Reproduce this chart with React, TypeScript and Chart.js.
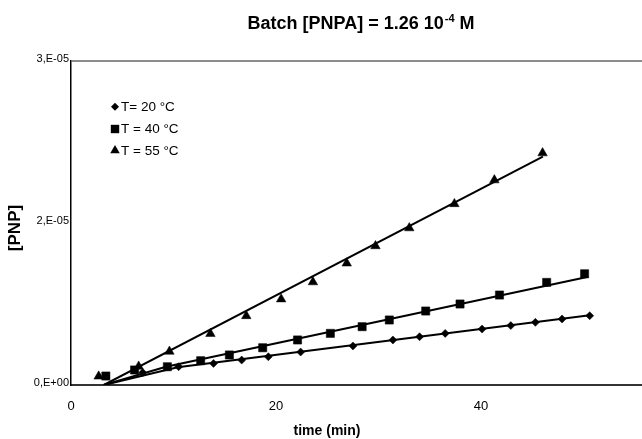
import { useEffect, useRef } from 'react';
import { Chart, registerables } from 'chart.js';

Chart.register(...registerables);

const FONT = "'Liberation Sans', Arial, sans-serif";

// T = 20 °C (diamonds)
const t20X = [7.0, 10.5, 13.9, 16.65, 19.25, 22.4, 27.5, 31.4, 34.0, 36.5, 40.1, 42.9, 45.3, 47.9, 50.6];
const t20Y = [1.15e-6, 1.69e-6, 2.0e-6, 2.31e-6, 2.62e-6, 3.05e-6, 3.61e-6, 4.17e-6, 4.47e-6, 4.78e-6, 5.18e-6, 5.5e-6, 5.8e-6, 6.11e-6, 6.42e-6];
// T = 40 °C (squares)
const t40X = [3.4, 6.2, 9.4, 12.65, 15.45, 18.7, 22.1, 25.3, 28.4, 31.05, 34.6, 37.95, 41.8, 46.4, 50.1];
const t40Y = [0.83e-6, 1.39e-6, 1.69e-6, 2.25e-6, 2.78e-6, 3.45e-6, 4.17e-6, 4.78e-6, 5.4e-6, 6.02e-6, 6.85e-6, 7.5e-6, 8.33e-6, 9.5e-6, 1.03e-5];
// T = 55 °C (triangles)
const t55X = [2.7, 6.6, 9.6, 13.6, 17.1, 20.5, 23.6, 26.9, 29.7, 33.0, 37.4, 41.3, 46.0];
const t55Y = [0.8e-6, 1.72e-6, 3.1e-6, 4.75e-6, 6.4e-6, 7.95e-6, 9.53e-6, 1.127e-5, 1.287e-5, 1.453e-5, 1.677e-5, 1.897e-5, 2.147e-5];

// fitted lines
const fit20X = [3.2, 10.4, 50.8];
const fit20Y = [0, 1.64e-6, 6.48e-6];
const fit40X = [3.2, 9.27, 50.47];
const fit40Y = [0, 1.69e-6, 1.003e-5];
const fit55X = [3.2, 46.03];
const fit55Y = [0, 2.114e-5];

const xTickValues = [0, 20, 40];
const yTickValues = [0, 1.5e-5, 3e-5];
const yTickLabels = ['0,E+00', '2,E-05', '3,E-05'];

const legendLabels = ['T= 20 °C', 'T = 40 °C', 'T = 55 °C'];
const titleMain = 'Batch [PNPA] = 1.26 10';
const titleSup = '-4';
const titleEnd = ' M';
const xTitle = 'time (min)';
const yTitle = '[PNP]';

const zip = (xs: number[], ys: number[]) => xs.map((x, i) => ({ x, y: ys[i] }));

function drawMarker(ctx: CanvasRenderingContext2D, style: string, x: number, y: number) {
  ctx.beginPath();
  if (style === 'diamond') {
    const r = 4;
    ctx.moveTo(x - r, y);
    ctx.lineTo(x, y - r);
    ctx.lineTo(x + r, y);
    ctx.lineTo(x, y + r);
  } else if (style === 'square') {
    const h = 4.2;
    ctx.rect(x - h, y - h, 2 * h, 2 * h);
  } else {
    const r = 5.5;
    ctx.moveTo(x, y - r);
    ctx.lineTo(x + r * 0.866, y + r * 0.5);
    ctx.lineTo(x - r * 0.866, y + r * 0.5);
  }
  ctx.closePath();
  ctx.fill();
}

const decor = {
  id: 'decor',
  afterDraw(chart: any) {
    const { ctx, chartArea } = chart;
    ctx.save();
    // top frame line
    ctx.strokeStyle = '#666';
    ctx.lineWidth = 1.5;
    ctx.beginPath();
    ctx.moveTo(chartArea.left, chartArea.top);
    ctx.lineTo(chart.width, chartArea.top);
    ctx.stroke();

    // title with superscript
    ctx.fillStyle = '#000';
    ctx.textBaseline = 'alphabetic';
    ctx.textAlign = 'left';
    const mainFont = `bold 18px ${FONT}`;
    const supFont = `bold 11px ${FONT}`;
    ctx.font = mainFont;
    const w1 = ctx.measureText(titleMain).width;
    const w3 = ctx.measureText(titleEnd).width;
    ctx.font = supFont;
    const w2 = ctx.measureText(titleSup).width;
    const total = w1 + w2 + 1 + w3;
    let tx = 361 - total / 2;
    const base = 29;
    ctx.font = mainFont;
    ctx.fillText(titleMain, tx, base);
    tx += w1;
    ctx.font = supFont;
    ctx.fillText(titleSup, tx + 1, base - 7);
    tx += w2 + 1;
    ctx.font = mainFont;
    ctx.fillText(titleEnd, tx, base);

    // axis titles
    ctx.font = `bold 14px ${FONT}`;
    ctx.textAlign = 'center';
    ctx.textBaseline = 'middle';
    ctx.fillText(xTitle, 327, 431);
    ctx.save();
    ctx.translate(15, 228);
    ctx.rotate(-Math.PI / 2);
    ctx.font = `bold 17px ${FONT}`;
    ctx.fillText(yTitle, 0, 0);
    ctx.restore();

    // legend
    const styles = ['diamond', 'square', 'triangle'];
    const ys = [106.7, 129, 150.5];
    ctx.font = `13.5px ${FONT}`;
    ctx.textAlign = 'left';
    ctx.textBaseline = 'middle';
    styles.forEach((s, i) => {
      ctx.fillStyle = '#000';
      drawMarker(ctx, s, 115, ys[i]);
      ctx.fillText(legendLabels[i], 121, ys[i] + 0.5);
    });
    ctx.restore();
  },
};

export default function App() {
  const ref = useRef<HTMLCanvasElement>(null);
  useEffect(() => {
    const canvas = ref.current!;
    const chart = new Chart(canvas, {
      type: 'scatter',
      data: {
        datasets: [
          {
            label: 'fit20',
            data: zip(fit20X, fit20Y),
            showLine: true,
            borderColor: '#000',
            borderWidth: 2,
            pointRadius: 0,
          },
          {
            label: 'fit40',
            data: zip(fit40X, fit40Y),
            showLine: true,
            borderColor: '#000',
            borderWidth: 2,
            pointRadius: 0,
          },
          {
            label: 'fit55',
            data: zip(fit55X, fit55Y),
            showLine: true,
            borderColor: '#000',
            borderWidth: 2,
            pointRadius: 0,
          },
          {
            label: legendLabels[0],
            data: zip(t20X, t20Y),
            pointStyle: 'rectRot',
            pointRadius: 4,
            pointBackgroundColor: '#000',
            pointBorderColor: '#000',
            pointBorderWidth: 0.5,
          },
          {
            label: legendLabels[1],
            data: zip(t40X, t40Y),
            pointStyle: 'rect',
            pointRadius: 5.8,
            pointBackgroundColor: '#000',
            pointBorderColor: '#000',
            pointBorderWidth: 0.5,
          },
          {
            label: legendLabels[2],
            data: zip(t55X, t55Y),
            pointStyle: 'triangle',
            pointRadius: 5.5,
            pointBackgroundColor: '#000',
            pointBorderColor: '#000',
            pointBorderWidth: 0.5,
          },
        ],
      },
      options: {
        responsive: false,
        animation: false,
        layout: { autoPadding: false, padding: { top: 61, left: 0, right: 0, bottom: 0 } },
        plugins: {
          legend: { display: false },
          title: { display: false },
          tooltip: { enabled: false },
        },
        scales: {
          x: {
            type: 'linear',
            min: 0,
            max: 55.7,
            afterBuildTicks: (s: any) => {
              s.ticks = xTickValues.map((v) => ({ value: v }));
            },
            afterFit: (s: any) => {
              s.height = 54;
              s.paddingRight = 0;
              s.paddingLeft = 0;
            },
            grid: { display: false, drawTicks: false },
            border: { display: true, color: '#333', width: 2 },
            ticks: {
              padding: 14,
              color: '#000',
              font: { family: FONT, size: 13 },
              callback: (v: any) => String(v),
            },
            title: { display: false },
          },
          y: {
            type: 'linear',
            min: 0,
            max: 3e-5,
            afterBuildTicks: (s: any) => {
              s.ticks = yTickValues.map((v) => ({ value: v }));
            },
            afterFit: (s: any) => {
              s.width = 71;
            },
            grid: { display: false, drawTicks: false },
            border: { display: true, color: '#000', width: 1.5 },
            ticks: {
              padding: 2,
              labelOffset: -2,
              color: '#000',
              font: { family: FONT, size: 11 },
              callback: (_v: any, i: number) => yTickLabels[i],
            },
            title: { display: false },
          },
        },
      },
      plugins: [decor],
    });
    return () => chart.destroy();
  }, []);
  return (
    <div style={{ position: 'absolute', left: 0, top: 0, width: 642, height: 439, background: '#fff' }}>
      <canvas ref={ref} width={642} height={439} style={{ display: 'block', width: 642, height: 439 }} />
    </div>
  );
}
